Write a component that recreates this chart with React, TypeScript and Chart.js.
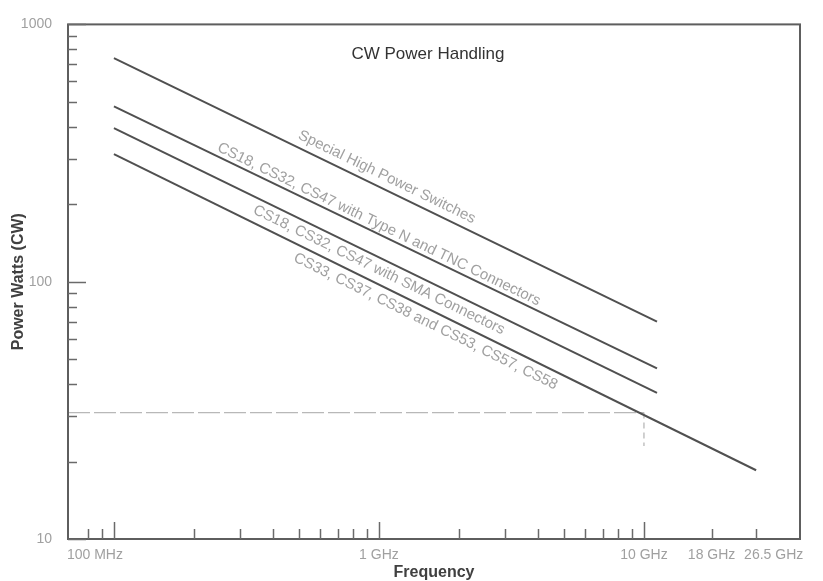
import React, { useEffect, useRef } from 'react';
import { Chart, registerables } from 'chart.js';

Chart.register(...registerables);

// ---- Data (frequency in GHz, power in watts CW) ----
const specialHighPower = [
  { x: 0.1, y: 740 },
  { x: 11.2, y: 70 },
];
const typeNTnc = [
  { x: 0.1, y: 480 },
  { x: 11.2, y: 46 },
];
const smaConnectors = [
  { x: 0.1, y: 395 },
  { x: 11.2, y: 37 },
];
const cs33Family = [
  { x: 0.1, y: 313 },
  { x: 26.5, y: 18.5 },
];

const seriesLabels = [
  'Special High Power Switches',
  'CS18, CS32, CS47 with Type N and TNC Connectors',
  'CS18, CS32, CS47 with SMA Connectors',
  'CS33, CS37, CS38 and CS53, CS57, CS58',
];
// label centre anchors (GHz, W)
const labelFreq = [1.07, 1.0, 1.0, 1.5];
const labelWatts = [255, 167, 111, 70];

// reference (dashed) lines
const refPowerW = 31;
const refFreqGHz = 10;
const refVerticalEndW = 23;

// axis range
const xMin = 0.0671;
const xMax = 38.8;
const yMin = 10;
const yMax = 1000;

// ticks
const xLabeledTicks = [0.1, 1, 10, 18, 26.5];
const xTickLabels = ['100 MHz', '1 GHz', '10 GHz', '18 GHz', '26.5 GHz'];
const xTickAlign = ['right', 'center', 'center', 'center', 'left'];
const xTickShift = [9, 0, 0, 0, -12];
const xMajorTicks = [0.1, 1, 10];
const xMinorTicks = [
  0.08, 0.09, 0.2, 0.3, 0.4, 0.5, 0.6, 0.7, 0.8, 0.9, 2, 3, 4, 5, 6, 7, 8, 9, 18, 26.5,
];
const yLabeledTicks = [10, 100, 1000];
const yTickLabels = ['10', '100', '1000'];
const yMajorTicks = [10, 100, 1000];
const yMinorTicks = [20, 30, 40, 50, 60, 70, 80, 90, 200, 300, 400, 500, 600, 700, 800, 900];

const chartTitle = 'CW Power Handling';
const xAxisTitle = 'Frequency';
const yAxisTitle = 'Power Watts (CW)';

const FONT = "'Liberation Sans', Arial, sans-serif";
const LINE_COLOR = '#505050';
const TICK_LABEL_COLOR = '#a0a0a0';

const decorPlugin = {
  id: 'decor',
  afterDatasetsDraw(chart: any) {
    const { ctx, chartArea, scales } = chart;
    const xs = scales.x;
    const ys = scales.y;
    ctx.save();
    // frame
    ctx.strokeStyle = '#5e5e5e';
    ctx.lineWidth = 2;
    ctx.strokeRect(chartArea.left, chartArea.top, chartArea.right - chartArea.left, chartArea.bottom - chartArea.top);

    // inward ticks
    ctx.strokeStyle = '#6a6a6a';
    ctx.lineWidth = 1.5;
    const drawX = (v: number, len: number) => {
      const px = Math.round(xs.getPixelForValue(v)) + 0.5;
      ctx.beginPath();
      ctx.moveTo(px, chartArea.bottom);
      ctx.lineTo(px, chartArea.bottom - len);
      ctx.stroke();
    };
    const drawY = (v: number, len: number) => {
      const py = Math.round(ys.getPixelForValue(v)) + 0.5;
      ctx.beginPath();
      ctx.moveTo(chartArea.left, py);
      ctx.lineTo(chartArea.left + len, py);
      ctx.stroke();
    };
    xMinorTicks.forEach((v) => drawX(v, 10));
    xMajorTicks.forEach((v) => drawX(v, 17));
    yMinorTicks.forEach((v) => drawY(v, 9));
    yMajorTicks.forEach((v) => drawY(v, 18));

    // x tick labels (custom alignment so the band labels do not collide)
    ctx.fillStyle = TICK_LABEL_COLOR;
    ctx.font = `14px ${FONT}`;
    ctx.textBaseline = 'middle';
    xLabeledTicks.forEach((v, i) => {
      ctx.textAlign = xTickAlign[i] as CanvasTextAlign;
      ctx.fillText(xTickLabels[i], xs.getPixelForValue(v) + xTickShift[i], chartArea.bottom + 16);
    });

    // title inside plot
    ctx.fillStyle = '#333333';
    ctx.font = `17px ${FONT}`;
    ctx.textAlign = 'center';
    ctx.textBaseline = 'middle';
    ctx.fillText(chartTitle, (chartArea.left + chartArea.right) / 2 - 6, chartArea.top + 30);

    // line labels along the lines
    ctx.fillStyle = '#a0a0a0';
    ctx.font = `15px ${FONT}`;
    chart.data.datasets.slice(0, 4).forEach((ds: any, i: number) => {
      const d = ds.data;
      const x0 = xs.getPixelForValue(d[0].x);
      const y0 = ys.getPixelForValue(d[0].y);
      const x1 = xs.getPixelForValue(d[d.length - 1].x);
      const y1 = ys.getPixelForValue(d[d.length - 1].y);
      const ang = Math.atan2(y1 - y0, x1 - x0);
      const cx = xs.getPixelForValue(labelFreq[i]);
      const cy = ys.getPixelForValue(labelWatts[i]);
      ctx.save();
      ctx.translate(cx, cy);
      ctx.rotate(ang);
      ctx.fillText(seriesLabels[i], 0, 0);
      ctx.restore();
    });
    ctx.restore();
  },
};

export default function App() {
  const canvasRef = useRef<HTMLCanvasElement | null>(null);

  useEffect(() => {
    document.body.style.margin = '0';
    const canvas = canvasRef.current;
    if (!canvas) return;
    const lineDs = (data: any[]) => ({
      data,
      borderColor: LINE_COLOR,
      borderWidth: 2,
      pointRadius: 0,
      fill: false,
      tension: 0,
    });
    const chart = new Chart(canvas, {
      type: 'line',
      data: {
        datasets: [
          lineDs(specialHighPower),
          lineDs(typeNTnc),
          lineDs(smaConnectors),
          lineDs(cs33Family),
          {
            data: [
              { x: xMin, y: refPowerW },
              { x: refFreqGHz, y: refPowerW },
            ],
            borderColor: '#b8b8b8',
            borderWidth: 1.3,
            borderDash: [22, 4],
            pointRadius: 0,
            fill: false,
          },
          {
            data: [
              { x: refFreqGHz, y: refPowerW },
              { x: refFreqGHz, y: refVerticalEndW },
            ],
            borderColor: '#b8b8b8',
            borderWidth: 1.3,
            borderDash: [6, 4],
            pointRadius: 0,
            fill: false,
          },
        ],
      },
      options: {
        responsive: false,
        animation: false,
        devicePixelRatio: 1,
        layout: { padding: { top: 18, right: 23, left: 0, bottom: 0 } },
        plugins: {
          legend: { display: false },
          tooltip: { enabled: false },
          title: { display: false },
        },
        scales: {
          x: {
            type: 'logarithmic',
            min: xMin,
            max: xMax,
            grid: { display: false, drawTicks: false },
            border: { display: false },
            afterBuildTicks: (scale: any) => {
              scale.ticks = xLabeledTicks.map((v) => ({ value: v }));
            },
            afterFit: (scale: any) => {
              scale.height = 42;
            },
            ticks: { display: false },
            title: {
              display: true,
              text: xAxisTitle,
              color: '#404040',
              font: { family: FONT, size: 16, weight: 'bold', lineHeight: 1 },
              padding: { top: 0, bottom: 0 },
            },
          },
          y: {
            type: 'logarithmic',
            min: yMin,
            max: yMax,
            grid: { display: false, drawTicks: false },
            border: { display: false },
            afterBuildTicks: (scale: any) => {
              scale.ticks = yLabeledTicks.map((v) => ({ value: v }));
            },
            afterFit: (scale: any) => {
              scale.width = 68;
            },
            ticks: {
              autoSkip: false,
              padding: 16,
              color: TICK_LABEL_COLOR,
              font: { family: FONT, size: 14 },
              callback: (value: any) => {
                const idx = yLabeledTicks.indexOf(Number(value));
                return idx >= 0 ? yTickLabels[idx] : '';
              },
            },
            title: {
              display: true,
              text: yAxisTitle,
              color: '#404040',
              font: { family: FONT, size: 16, weight: 'bold', lineHeight: 1 },
              padding: { top: 11, bottom: 0 },
            },
          },
        },
      },
      plugins: [decorPlugin],
    } as any);
    return () => chart.destroy();
  }, []);

  return (
    <div style={{ width: 823, height: 581, background: '#ffffff' }}>
      <canvas ref={canvasRef} width={823} height={581} />
    </div>
  );
}
